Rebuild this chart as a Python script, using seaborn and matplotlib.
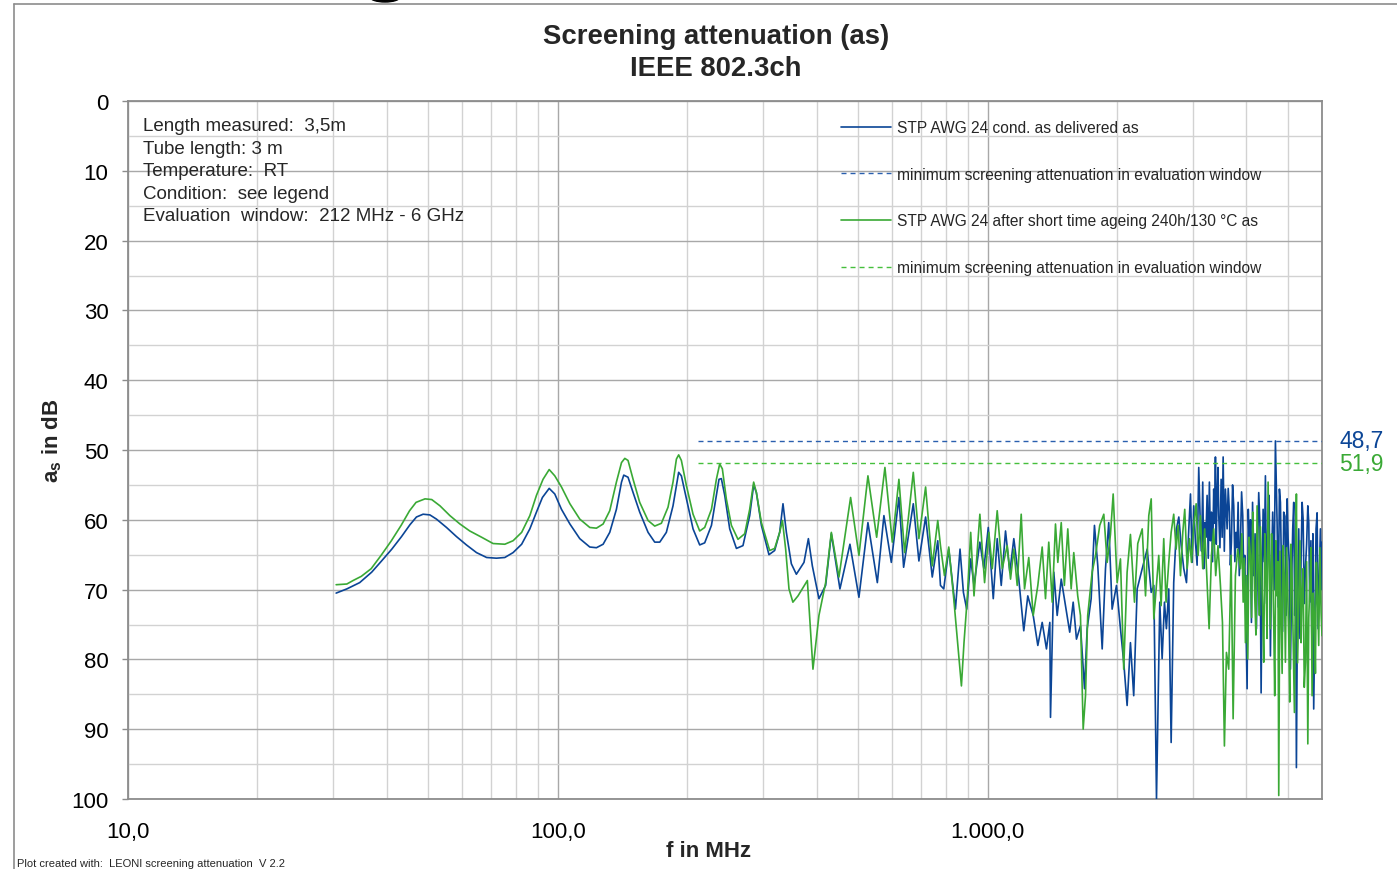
import numpy as np
import pandas as pd
import matplotlib
matplotlib.use("Agg")
import matplotlib.pyplot as plt
import seaborn as sns
from matplotlib.lines import Line2D
from matplotlib.patches import Ellipse
from matplotlib.ticker import FixedLocator, FixedFormatter, NullFormatter

# ---------------- data ----------------
freq_delivered = [
    30.5, 32.3, 34.6, 36.9, 38.9, 41.1, 43.3, 45.3, 46.9, 48.6, 50.4, 52.2, 55.1, 58.1, 61.3, 64.7, 68.3,
    72.0, 75.3, 78.7, 82.4, 86.1, 89.2, 92.1, 95.5, 98.4, 102.0, 106.7, 112.5, 118.7, 123.0, 127.5, 132.1,
    136.9, 140.7, 142.4, 145.7, 149.7, 155.1, 162.2, 168.1, 172.7, 178.9, 185.4, 189.4, 191.1, 193.9,
    199.2, 206.4, 213.9, 219.7, 227.8, 233.9, 237.2, 240.2, 244.6, 251.2, 260.4, 269.7, 279.6, 285.6,
    289.8, 297.7, 310.0, 319.6, 328.3, 334.2, 340.3, 349.5, 359.0,
    374.0, 382.9, 391.1, 405.2, 420.0, 433.0, 453.4, 478.4, 502.0, 526.8, 554.0, 573.9, 597.1, 621.9,
    637.8, 671.7, 692.2, 717.5, 743.6, 765.8, 777, 790.8, 812.3, 841.9, 862.8, 878.6, 894.3, 913.6,
    929.9, 959.6, 980.4, 1003.8, 1031, 1053, 1076, 1101, 1126.8, 1151, 1182, 1214, 1240.5, 1277, 1309,
    1340, 1371, 1396, 1401, 1426, 1452, 1484, 1518, 1553, 1582, 1610, 1645, 1681, 1705, 1742, 1773,
    1805, 1848, 1881, 1914, 1949, 1995, 2038, 2074, 2112, 2150, 2188, 2229, 2290, 2352, 2403, 2437,
    2472, 2516, 2548, 2580, 2607, 2640, 2674, 2711, 2751, 2786, 2822, 2861, 2903, 2939, 2966, 2993,
    3046, 3100, 3128, 3167, 3201, 3242, 3282, 3318, 3359, 3390, 3420, 3451, 3495, 3533, 3576, 3609,
    3654, 3693, 3739, 3786, 3828, 3876, 3924, 3966, 4017, 4067, 4111, 4162, 4223, 4275, 4330, 4377,
    4431, 4488, 4551, 4607, 4675, 4717, 4776, 4828, 4887, 4951, 5004, 5066, 5129, 5184, 5231, 5297,
    5365, 5423, 5490, 5561, 5618, 5690, 5739, 5812, 5876, 5949, 6000]
att_delivered = [
    70.5, 69.9, 69.0, 67.5, 65.9, 64.2, 62.4, 60.7, 59.6, 59.2, 59.3, 59.9, 61.1, 62.4, 63.6, 64.7, 65.4,
    65.5, 65.4, 64.7, 63.5, 61.3, 58.9, 56.8, 55.5, 56.3, 58.5, 60.6, 62.7, 63.9, 64.0, 63.5, 61.8,
    58.5, 54.6, 53.6, 53.9, 56.1, 58.9, 61.8, 63.2, 63.2, 61.8, 58.0, 54.6, 53.2, 53.7,
    57.0, 61.3, 63.6, 63.3, 60.8, 56.5, 54.2, 54.1, 56.5, 61.3, 64.1, 63.7, 59.4, 55.0,
    56.1, 60.8, 65.0, 64.4, 61.8, 57.7, 61.8, 66.3, 67.8,
    66.1, 62.7, 66.6, 71.3, 69.4, 62.0, 69.9, 63.5, 71.1, 60.4, 69.0, 59.4, 66.1, 56.8,
    66.8, 57.7, 65.9, 59.6, 68.2, 63.0, 69.4, 69.9, 64.2, 72.8, 64.2, 70.4, 72.8, 65.6,
    69.4, 63.2, 67.0, 61.1, 71.3, 62.7, 69.4, 61.6, 67.5, 62.7, 68.5, 75.9, 70.9, 73.7, 78.0,
    74.7, 78.5, 74.7, 88.3, 67.5, 73.7, 68.5, 72.3, 76.1, 71.8, 77.1, 75.2, 84.2, 75.6, 71.3, 60.8,
    66.6, 78.5, 67.0, 60.4, 72.8, 69.4, 75.6, 80.4, 86.6, 77.6, 85.2, 69.9, 67.0, 64.2, 70.4, 69.4,
    100.0, 71.8, 79.9, 71.8, 75.6, 69.9, 91.9, 69.0, 61.3, 59.6, 63.7, 67.0, 69.0, 61.3, 56.3, 66.1,
    63.2, 52.5, 61.3, 54.6, 60.4, 56.5, 54.6, 58.9, 55.6, 51.0, 56.5, 59.4, 54.2, 51.0, 55.6, 61.3,
    58.9, 63.2, 58.0, 61.8, 57.5, 63.2, 59.4, 65.1, 84.2, 64.7, 74.7, 68.0, 75.6, 56.1, 84.8, 58.5,
    53.7, 61.3, 79.5, 58.9, 48.7, 60.4, 55.6, 67.0, 58.9, 73.7, 62.7, 81.4, 61.3, 73.7, 95.5, 61.3,
    65.1, 59.9, 67.0, 58.0, 71.8, 80.4, 87.1, 61.3, 75.6, 61.3, 63.2]
# additional dense samples read in the 3-6 GHz band (as delivered)
freq_delivered_hf = [
    3018, 3073, 3147, 3184, 3222, 3262, 3300, 3338, 3375, 3405, 3436, 3473, 3514, 3555, 3630, 3673,
    3716, 3762, 3807, 3852, 3900, 3945, 4042, 4090, 4136, 4192, 4249, 4302, 4354, 4404, 4460, 4520,
    4580, 4641, 4747, 4802, 4857, 4920, 4978, 5035, 5098, 5157, 5208, 5264, 5331, 5394, 5456, 5525,
    5590, 5654, 5715, 5776, 5845, 5913, 5975]
att_delivered_hf = [
    58.0, 66.5, 64.5, 67.0, 62.5, 65.5, 63.0, 66.0, 60.5, 63.5, 52.5, 64.0, 62.5, 64.5, 55.5, 66.5,
    55.0, 66.0, 64.0, 68.0, 56.0, 68.0, 58.5, 60.0, 57.5, 62.0, 64.0, 60.5, 68.0, 66.0, 72.0, 56.5,
    66.0, 70.0, 72.5, 57.5, 76.0, 59.5, 57.0, 66.0, 69.5, 57.5, 65.0, 70.0, 77.0, 57.5, 72.0, 63.5,
    60.5, 63.0, 62.0, 74.0, 59.0, 68.0, 70.0]

freq_aged = [
    30.5, 32.3, 33.4, 34.9, 36.8, 38.8, 41.0, 43.2, 45.2, 46.8, 49.1, 50.9, 53.2, 56.1, 59.2, 62.4, 66.5,
    70.7, 75.3, 78.7, 82.4, 86.1, 89.2, 92.4, 95.5, 98.4, 102.0, 106.7, 112.5, 118.7, 123.0, 127.5, 132.1,
    136.9, 140.7, 143.2, 145.7, 149.7, 155.1, 162.2, 168.1, 174.2, 180.5, 185.4, 188.8, 191.1, 193.9,
    199.2, 206.4, 213.9, 219.7, 227.8, 233.9, 238.1, 241.5, 246.7, 253.5, 262.6, 272.2, 279.6, 285.6,
    289.8, 297.7, 311.2, 319.6, 328.3, 333.2, 339.0, 345.1, 352.4, 362.2,
    380.8, 392.4, 405.2, 420.0, 433.0, 451.0, 480.1, 502.0, 526.8, 552.0, 577.0, 600.3, 621.9, 641.2,
    671.7, 692.2, 717.5, 743.6, 765.8, 777, 793.8, 812.3, 834.3, 869.3, 881.4, 897.6, 913.6, 929.9,
    959.6, 984.1, 1007, 1025.5, 1053, 1081.8, 1111, 1131, 1151, 1172, 1197.5, 1219, 1247, 1277, 1309,
    1340, 1364, 1388, 1414, 1439, 1457, 1484, 1509, 1537, 1565, 1587, 1621, 1645, 1669, 1690, 1710,
    1751, 1783, 1824, 1864, 1898, 1931.7, 1960, 2002, 2038, 2074, 2112, 2150, 2197, 2236, 2290, 2331,
    2372, 2403, 2437, 2481, 2502, 2534, 2570, 2602, 2640, 2674, 2711, 2746, 2776, 2811, 2846, 2876,
    2914, 2950, 2982, 3018, 3057, 3090, 3128, 3167, 3201, 3242, 3277, 3318, 3359, 3395, 3437, 3482,
    3520, 3557, 3596, 3640, 3687, 3727, 3773, 3820, 3876, 3933, 3981, 4030, 4089, 4140, 4184, 4238,
    4291, 4337, 4391, 4446, 4495, 4551, 4607, 4657, 4717, 4759, 4820, 4872, 4932, 4993, 5047, 5112,
    5176, 5231, 5297, 5365, 5423, 5490, 5561, 5618, 5690, 5761, 5823, 5895, 5971, 6000]
att_aged = [
    69.3, 69.2, 68.7, 68.1, 67.0, 65.1, 63.0, 60.8, 58.7, 57.5, 57.0, 57.1, 58.0, 59.4, 60.6, 61.6, 62.5,
    63.4, 63.5, 63.0, 61.8, 59.4, 56.5, 54.2, 52.8, 53.7, 55.3, 57.7, 59.9, 61.1, 61.2, 60.6, 58.7,
    54.6, 51.8, 51.2, 51.5, 54.2, 57.5, 60.1, 60.9, 60.5, 58.2, 54.6, 51.3, 50.7, 51.5,
    55.1, 59.2, 61.6, 61.1, 58.5, 54.2, 52.0, 52.7, 57.0, 60.8, 62.8, 62.0, 58.5, 54.6,
    56.1, 60.4, 64.4, 64.1, 61.8, 60.1, 64.2, 69.9, 71.8, 70.9,
    68.7, 81.4, 73.7, 69.0, 61.8, 68.2, 56.8, 65.1, 53.7, 62.5, 52.5, 63.2, 54.2, 64.7,
    53.2, 62.7, 55.3, 66.6, 60.1, 63.7, 68.0, 63.9, 71.3, 83.8, 77.6, 70.9, 61.8, 70.9,
    59.2, 69.0, 61.8, 67.0, 58.7, 67.0, 63.7, 68.5, 64.2, 69.4, 59.2, 69.9, 65.4, 73.7, 69.4,
    63.9, 71.3, 63.2, 71.8, 60.6, 66.1, 60.4, 69.4, 61.3, 69.9, 64.7, 70.9, 73.7, 90.0, 85.2, 73.7,
    67.5, 65.1, 60.8, 59.2, 66.1, 62.1, 56.3, 69.0, 65.6, 81.4, 67.5, 62.1, 71.8, 63.4, 61.3, 70.9,
    59.4, 57.0, 74.2, 68.0, 65.1, 72.3, 62.7, 71.8, 66.1, 61.8, 59.2, 64.2, 60.8, 68.0, 61.8, 58.5,
    67.0, 62.7, 66.1, 60.8, 57.7, 65.1, 59.4, 67.0, 61.3, 69.0, 75.6, 65.1, 61.3, 68.0, 63.7, 69.4,
    74.7, 92.4, 79.0, 81.4, 65.1, 88.5, 68.0, 64.2, 67.0, 71.8, 77.6, 79.9, 65.1, 58.9, 70.9, 58.0,
    73.7, 66.1, 80.4, 68.5, 54.6, 75.6, 67.0, 85.2, 70.9, 99.5, 73.7, 63.7, 80.4, 70.9, 86.1, 68.5,
    87.6, 56.3, 71.8, 77.6, 67.0, 80.4, 92.1, 69.9, 85.2, 73.7, 66.1, 78.0, 73.3, 76.6]
# additional dense samples read in the 3.9-6 GHz band (aged)
freq_aged_hf = [
    3905, 3957, 4005, 4060, 4115, 4162, 4211, 4265, 4314, 4364, 4418, 4470, 4523, 4580, 4632, 4687,
    4738, 4790, 4846, 4902, 4962, 5020, 5080, 5144, 5204, 5264, 5331, 5394, 5456, 5525, 5590, 5654,
    5725, 5792, 5859, 5933]
att_aged_hf = [
    62.0, 65.5, 68.0, 62.5, 74.0, 64.0, 76.5, 67.5, 61.0, 72.5, 62.0, 77.0, 66.0, 62.0, 74.5, 63.0,
    66.0, 64.5, 82.0, 68.0, 64.0, 76.5, 63.5, 78.0, 67.0, 80.5, 63.0, 70.0, 84.0, 66.0, 74.0, 64.0,
    70.5, 82.0, 71.0, 64.0]

window_mhz = [212, 6000]          # evaluation window
min_delivered = 48.7              # minimum screening attenuation (as delivered)
min_aged = 51.9                   # minimum screening attenuation (aged)

labels = ["STP AWG 24 cond. as delivered as",
          "minimum screening attenuation in evaluation window",
          "STP AWG 24 after short time ageing 240h/130 \u00b0C as",
          "minimum screening attenuation in evaluation window"]
info_lines = ["Length measured:  3,5m", "Tube length: 3 m", "Temperature:  RT",
              "Condition:  see legend", "Evaluation  window:  212 MHz - 6 GHz"]
xtick_vals = [10, 100, 1000]
xtick_labels = ["10,0", "100,0", "1.000,0"]
ytick_vals = list(range(0, 101, 10))

# ---------------- style ----------------
sns.set_style("white")
plt.rcParams['font.family'] = ['Liberation Sans', 'DejaVu Sans']
plt.rcParams['mathtext.fontset'] = 'custom'
plt.rcParams['mathtext.rm'] = 'Liberation Sans'
plt.rcParams['mathtext.bf'] = 'Liberation Sans:bold'
plt.rcParams['mathtext.it'] = 'Liberation Sans:italic'

BLUE = "#0b4596"
BLUE_D = "#2a5fae"
GREEN = "#3aa935"
GREEN_D = "#45bf3c"
GRID_MAJ = "#a8a8a8"
GRID_MIN = "#d2d2d2"
SPINE = "#8c8c8c"

W, H = 1397, 870
fig = plt.figure(figsize=(W / 100, H / 100), dpi=100)
L, R, T, B = 128, 1322, 102, 800
ax = fig.add_axes([L / W, 1 - B / H, (R - L) / W, (B - T) / H])

df_d = pd.DataFrame({"f": freq_delivered + freq_delivered_hf,
                     "a": att_delivered + att_delivered_hf}).sort_values("f")
df_a = pd.DataFrame({"f": freq_aged + freq_aged_hf,
                     "a": att_aged + att_aged_hf}).sort_values("f")
df_wd = pd.DataFrame({"f": window_mhz, "a": [min_delivered] * 2})
df_wa = pd.DataFrame({"f": window_mhz, "a": [min_aged] * 2})

sns.lineplot(data=df_d, x="f", y="a", ax=ax, color=BLUE, lw=1.2, estimator=None, sort=False, zorder=3)
sns.lineplot(data=df_wd, x="f", y="a", ax=ax, color=BLUE_D, lw=1.0, estimator=None, sort=False,
             dashes=False, zorder=4).lines[-1].set_dashes([3.6, 2.9])
sns.lineplot(data=df_a, x="f", y="a", ax=ax, color=GREEN, lw=1.2, estimator=None, sort=False, zorder=3)
sns.lineplot(data=df_wa, x="f", y="a", ax=ax, color=GREEN_D, lw=1.0, estimator=None, sort=False,
             dashes=False, zorder=4).lines[-1].set_dashes([3.6, 2.9])

ax.set_xscale("log")
ax.set_xlim(10, 6000)
ax.set_ylim(100, 0)

ax.xaxis.set_major_locator(FixedLocator(xtick_vals))
ax.xaxis.set_major_formatter(FixedFormatter(xtick_labels))
minor_x = [m * d for d in (10, 100, 1000) for m in range(2, 10) if m * d <= 6000]
ax.xaxis.set_minor_locator(FixedLocator(minor_x))
ax.xaxis.set_minor_formatter(NullFormatter())
ax.yaxis.set_major_locator(FixedLocator(ytick_vals))
ax.yaxis.set_minor_locator(FixedLocator(list(range(5, 100, 10))))

ax.grid(True, which="major", color=GRID_MAJ, lw=1.0, zorder=0)
ax.grid(True, which="minor", color=GRID_MIN, lw=1.0, zorder=0)
ax.set_axisbelow(True)

ax.tick_params(axis="x", which="both", length=0, pad=16, labelsize=16, colors="black")
ax.tick_params(axis="y", which="major", length=4, width=1.0, color=SPINE, pad=10, labelsize=16, labelcolor="black", left=True)
ax.tick_params(axis="y", which="minor", length=0)
for s in ax.spines.values():
    s.set_color(SPINE)
    s.set_linewidth(1.3)
    s.set_visible(True)

ax.set_xlabel("f in MHz", fontsize=16, fontweight="bold")
ax.xaxis.set_label_coords((709 - L) / (R - L), (B - 852) / (B - T))
ax.xaxis.label.set_verticalalignment("center")
ax.set_ylabel(r"$\mathbf{a_s}$ in dB", fontsize=16, fontweight="bold")
ax.yaxis.set_label_coords((52 - L) / (R - L), 1 - (441 - T) / (B - T))
ax.yaxis.label.set_verticalalignment("center")

# legend
handles = [Line2D([], [], color=BLUE, lw=1.2),
           Line2D([], [], color=BLUE_D, lw=1.0, dashes=[3.6, 2.9]),
           Line2D([], [], color=GREEN, lw=1.2),
           Line2D([], [], color=GREEN_D, lw=1.0, dashes=[3.6, 2.9])]
ax.legend(handles, labels, loc="upper left",
          bbox_to_anchor=((841 - L) / (R - L), 1 - (121 - T) / (B - T)),
          frameon=False, fontsize=11.2, borderpad=0, borderaxespad=0,
          handlelength=3.2, handletextpad=0.4, labelspacing=2.04)

# info text
ax.text((143 - L) / (R - L), 1 - (118 - T) / (B - T), "\n".join(info_lines), transform=ax.transAxes,
        fontsize=13.5, va="top", ha="left", linespacing=1.43)

# min value labels on the right
for v, c in ((min_delivered, BLUE), (min_aged, GREEN)):
    ax.text(1 + (1339 - R) / (R - L), v, f"{v:.1f}".replace(".", ","), color=c, fontsize=16.5,
            ha="left", va="center", transform=ax.get_yaxis_transform(), clip_on=False)

# titles
fig.text(716 / W, 1 - 37 / H, "Screening attenuation (as)", fontsize=19.8, fontweight="bold", ha="center", va="center")
fig.text(716 / W, 1 - 69 / H, "IEEE 802.3ch", fontsize=19.8, fontweight="bold", ha="center", va="center")

# chart frame and the cut-off glyph from the page above
fig.add_artist(Line2D([14 / W, 14 / W], [0, 1 - 5 / H], transform=fig.transFigure, color=SPINE, lw=1.2))
fig.add_artist(Line2D([14 / W, 1], [1 - 5 / H, 1 - 5 / H], transform=fig.transFigure, color=SPINE, lw=1.2))
fig.add_artist(Ellipse((385 / W, 1 + 2 / H), 30 / W, 10 / H, transform=fig.transFigure, color="black"))
fig.text(17 / W, 1 - 859 / H, "Plot created with:  LEONI screening attenuation  V 2.2", fontsize=8, va="top", ha="left")

fig.savefig("out.png", dpi=100)
